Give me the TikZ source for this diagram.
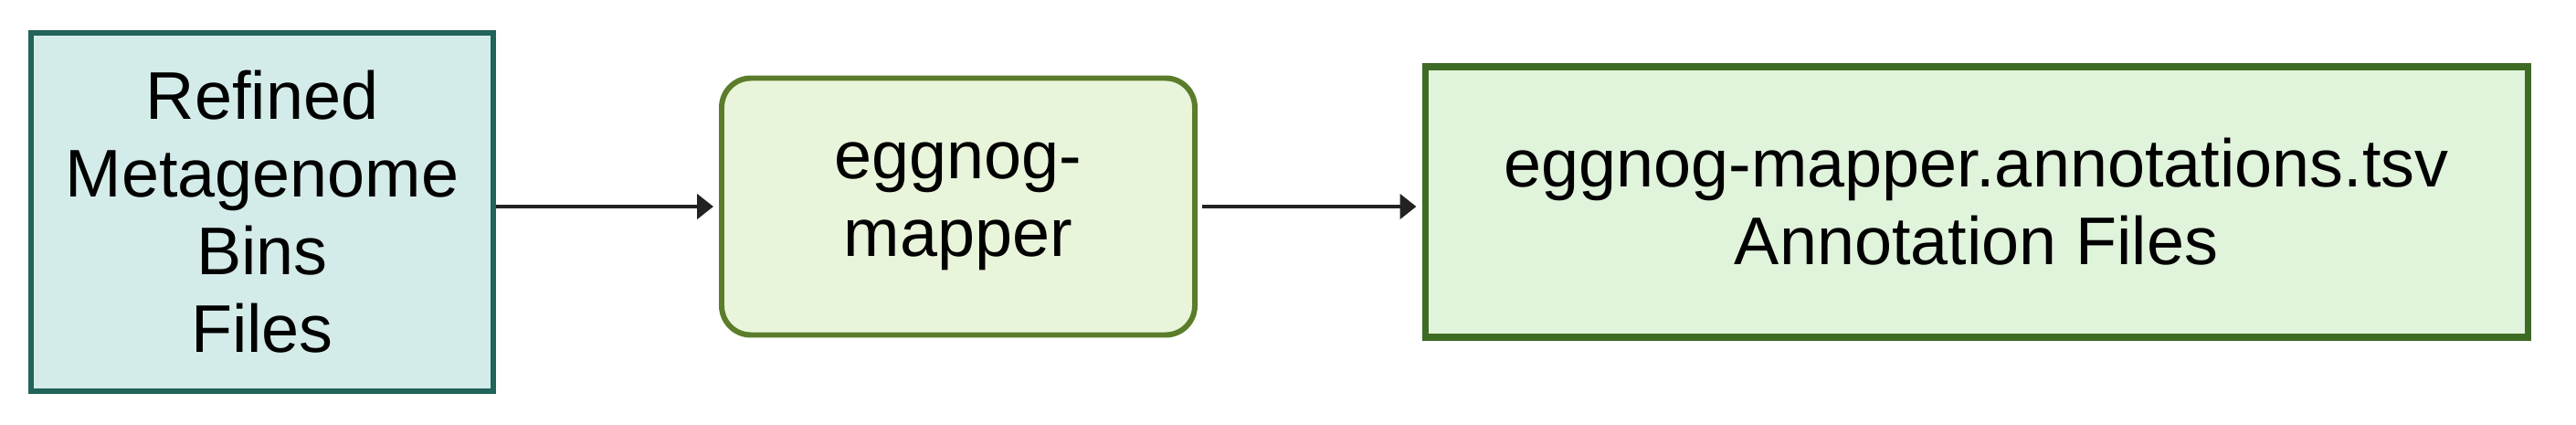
\documentclass[tikz,border=0pt]{standalone}
\usepackage{fontspec}
\setmainfont{Liberation Sans}
\usetikzlibrary{arrows.meta}
\definecolor{binfill}{HTML}{D4ECE9}
\definecolor{bindraw}{HTML}{22635A}
\definecolor{mapfill}{HTML}{E9F5DA}
\definecolor{mapdraw}{HTML}{5B7D2B}
\definecolor{tsvfill}{HTML}{E0F3DB}
\definecolor{tsvdraw}{HTML}{3D6B24}
\definecolor{arrowgray}{HTML}{222222}
\begin{document}
\begin{tikzpicture}[
  x=1cm,y=1cm,
  box/.style={align=center, inner sep=0pt, font=\fontsize{21pt}{24.2pt}\selectfont},
  arrow/.style={-{Triangle[length=0.18cm, width=0.27cm]}, line width=1.4pt, draw=arrowgray, shorten >=0.06cm}
]
\useasboundingbox (0,0) rectangle (28.2,4.64);
\node[box, draw=bindraw, fill=binfill, line width=1.8pt, minimum width=5.06cm, minimum height=3.92cm] (bins) at (2.87,2.32) {Refined\\Metagenome\\Bins\\Files};
\node[box, draw=mapdraw, fill=mapfill, line width=1.7pt, rounded corners=0.32cm, minimum width=5.18cm, minimum height=2.81cm] (mapper) at (10.49,2.38) {eggnog-\\mapper};
\node[box, draw=tsvdraw, fill=tsvfill, line width=2pt, minimum width=12.07cm, minimum height=2.96cm] (tsv) at (21.635,2.43) {eggnog-mapper.annotations.tsv\\Annotation Files};
\draw[arrow] (bins.east |- mapper.west) -- (mapper.west);
\draw[arrow, shorten <=0.05cm] (mapper.east) -- (mapper.east -| tsv.west);
\end{tikzpicture}
\end{document}
